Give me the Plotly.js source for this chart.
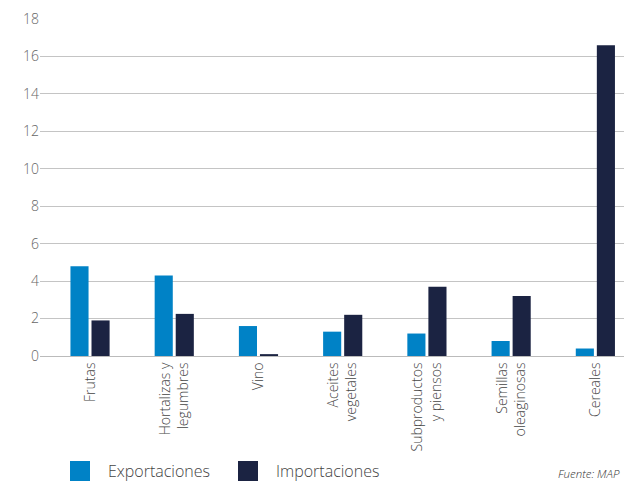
<!DOCTYPE html>
<html>
<head>
<meta charset="utf-8">
<script src="https://cdn.plot.ly/plotly-3.0.1.min.js"></script>
<style>html,body{margin:0;padding:0;background:#fff;}#chart{width:624px;height:481px;}</style>
</head>
<body>
<div id="chart"></div>
<script>
const categories = ["Frutas", "Hortalizas y<br>legumbres", "Vino", "Aceites<br>vegetales", "Subproductos<br>y piensos", "Semillas<br>oleaginosas", "Cereales"];
const exportaciones = [4.8, 4.3, 1.6, 1.3, 1.2, 0.8, 0.4];
const importaciones = [1.9, 2.25, 0.1, 2.2, 3.7, 3.2, 16.6];
const seriesNames = ["Exportaciones", "Importaciones"];
const yTicks = [0, 2, 4, 6, 8, 10, 12, 14, 16, 18];
const source = "Fuente: MAP";

const colExp = "#0082c6";
const colImp = "#1b2342";
const fontFam = "'Open Sans', 'Noto Sans', sans-serif";

const traces = [
  {type: "bar", name: seriesNames[0], x: categories, y: exportaciones, marker: {color: colExp}, showlegend: false, hoverinfo: "none"},
  {type: "bar", name: seriesNames[1], x: categories, y: importaciones, marker: {color: colImp}, showlegend: false, hoverinfo: "none"}
];

const layout = {
  width: 624, height: 481,
  margin: {l: 40, r: 0, t: 19, b: 125},
  paper_bgcolor: "#fff", plot_bgcolor: "#fff",
  barmode: "group", bargap: 0.5, bargroupgap: 0.14,
  font: {family: fontFam, color: "#555", weight: 300},
  xaxis: {
    range: [-0.594, 6.34],
    tickangle: -90, tickfont: {size: 14, color: "#444", family: fontFam, weight: 300},
    showgrid: false, showline: true, linecolor: "#bbb", linewidth: 1,
    ticks: "", automargin: false, fixedrange: true
  },
  yaxis: {
    range: [0, 18], tickvals: yTicks, ticktext: yTicks.map(String),
    showgrid: true, gridcolor: "#c4c4c4", gridwidth: 1, zeroline: false,
    showline: false, ticks: "", ticklen: 0, tickfont: {size: 14, color: "#666", family: fontFam, weight: 300},
    automargin: false, fixedrange: true
  },
  shapes: [
    {type: "rect", xref: "paper", yref: "paper", x0: 30/584, x1: 50/584, y0: -105/337, y1: -125/337, fillcolor: colExp, line: {width: 0}},
    {type: "rect", xref: "paper", yref: "paper", x0: 198/584, x1: 218/584, y0: -105/337, y1: -125/337, fillcolor: colImp, line: {width: 0}}
  ],
  annotations: [
    {xref: "paper", yref: "paper", x: 66/584, y: -115/337, xanchor: "left", yanchor: "middle", text: seriesNames[0], showarrow: false, font: {size: 16, color: "#444", family: fontFam, weight: 300}},
    {xref: "paper", yref: "paper", x: 234/584, y: -115/337, xanchor: "left", yanchor: "middle", text: seriesNames[1], showarrow: false, font: {size: 16, color: "#444", family: fontFam, weight: 300}},
    {xref: "paper", yref: "paper", x: 582/584, y: -117/337, xanchor: "right", yanchor: "middle", text: "<i>" + source + "</i>", showarrow: false, font: {size: 11.5, color: "#333", family: fontFam}}
  ]
};

Plotly.newPlot("chart", traces, layout, {displayModeBar: false, staticPlot: true});
</script>
</body>
</html>
